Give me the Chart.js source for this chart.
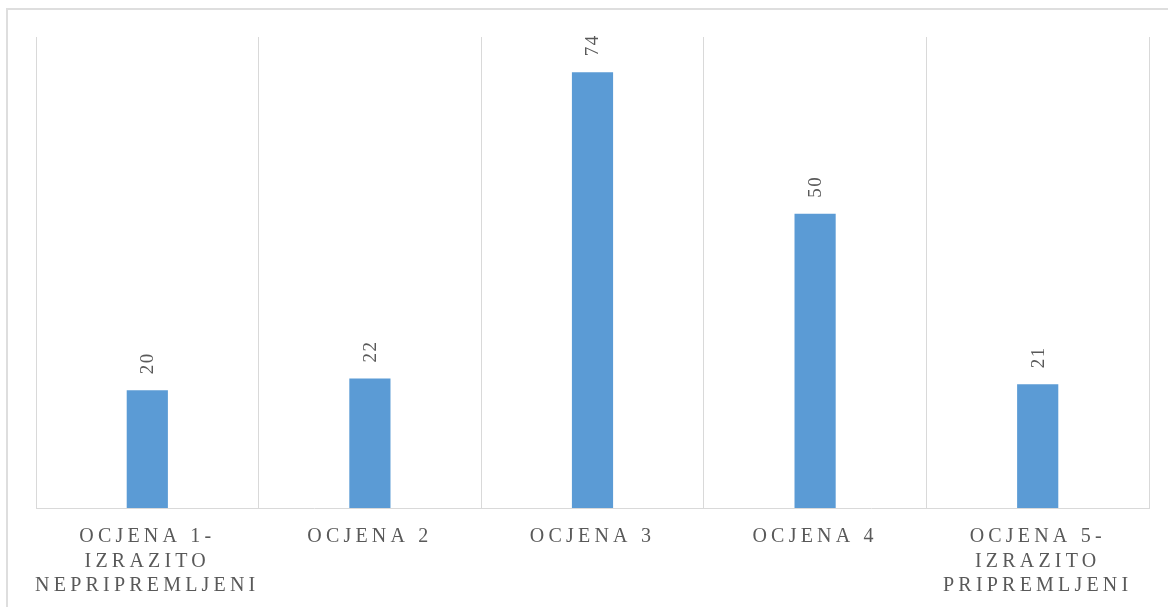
<!DOCTYPE html>
<html>
<head>
<meta charset="utf-8">
<script src="https://cdn.jsdelivr.net/npm/chart.js@4.4.1/dist/chart.umd.min.js"></script>
<style>
  html, body { margin: 0; padding: 0; background: #ffffff; overflow: hidden; }
  #frame { position: absolute; left: 6px; top: 8px; width: 1300px; height: 700px; border: 2px solid #dedede; box-sizing: border-box; }
  #wrap { position: absolute; left: 0; top: 0; width: 1168px; height: 607px; }
</style>
</head>
<body>
<div id="frame"></div>
<div id="wrap"><canvas id="c" width="1168" height="607"></canvas></div>
<script>
const categories = [
  ["OCJENA 1-", "IZRAZITO", "NEPRIPREMLJENI"],
  ["OCJENA 2"],
  ["OCJENA 3"],
  ["OCJENA 4"],
  ["OCJENA 5-", "IZRAZITO", "PRIPREMLJENI"]
];
const values = [20, 22, 74, 50, 21];
const yMax = 80;

const textColor = '#595959';
const gridColor = '#d9d9d9';
const barColor = '#5b9bd5';
const serif = '"Liberation Serif", "Times New Roman", serif';

const spacingPlugin = {
  id: 'spacing',
  beforeDraw(chart) { chart.ctx.letterSpacing = '4.2px'; }
};

const valueLabels = {
  id: 'valueLabels',
  afterDatasetsDraw(chart) {
    const ctx = chart.ctx;
    const meta = chart.getDatasetMeta(0);
    ctx.save();
    ctx.letterSpacing = '1.5px';
    ctx.font = '19px ' + serif;
    ctx.fillStyle = textColor;
    ctx.textAlign = 'left';
    ctx.textBaseline = 'middle';
    meta.data.forEach((bar, i) => {
      ctx.save();
      ctx.translate(bar.x + 1, bar.y - 16);
      ctx.rotate(-Math.PI / 2);
      ctx.fillText(String(values[i]), 0, 0);
      ctx.restore();
    });
    ctx.restore();
  }
};

new Chart(document.getElementById('c'), {
  type: 'bar',
  data: {
    labels: categories,
    datasets: [{
      data: values,
      backgroundColor: barColor,
      borderWidth: 0,
      barPercentage: 0.185,
      categoryPercentage: 1.0
    }]
  },
  options: {
    responsive: false,
    animation: false,
    devicePixelRatio: 1,
    layout: { padding: { left: 36, right: 19, top: 37, bottom: 0 } },
    plugins: { legend: { display: false }, tooltip: { enabled: false } },
    scales: {
      x: {
        offset: true,
        grid: { display: true, offset: true, color: gridColor, lineWidth: 1, drawTicks: false },
        border: { display: true, color: gridColor, width: 1 },
        ticks: {
          color: textColor,
          font: { family: serif, size: 20, lineHeight: 1.225 },
          padding: 16.5,
          maxRotation: 0,
          autoSkip: false
        },
        afterFit(scale) { scale.height = 99; }
      },
      y: {
        display: false,
        min: 0,
        max: yMax
      }
    }
  },
  plugins: [spacingPlugin, valueLabels]
});
</script>
</body>
</html>
